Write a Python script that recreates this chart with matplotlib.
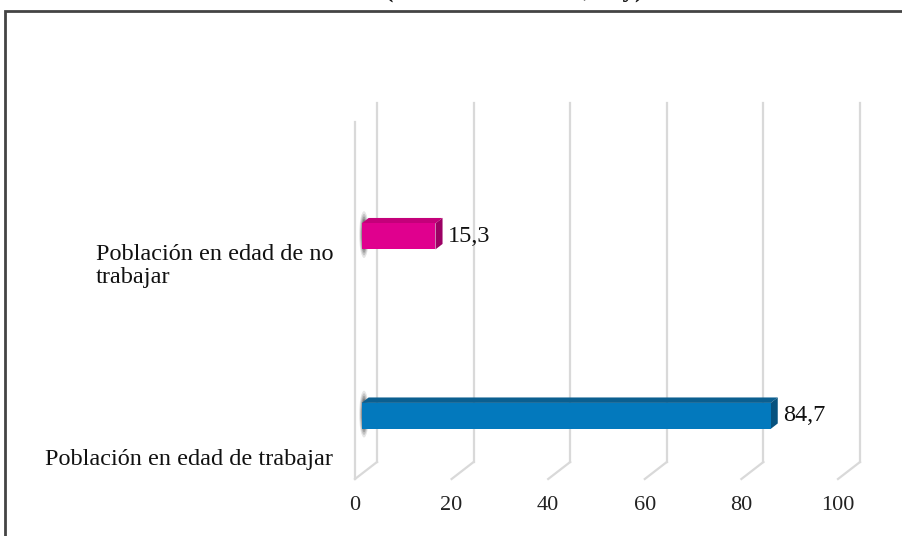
import matplotlib
matplotlib.use("Agg")
import matplotlib.pyplot as plt
from matplotlib.patches import Polygon, Rectangle, Ellipse

plt.rcParams['font.family'] = ['Liberation Serif', 'DejaVu Serif']

# ---- data ----
categories = ["Población en edad de trabajar", "Población en edad de no\ntrabajar"]
values = [84.7, 15.3]
value_labels = ["84,7", "15,3"]
xticks = [0, 20, 40, 60, 80, 100]
xtick_labels = ["0", "20", "40", "60", "80", "100"]
front_colors = ["#0379BD", "#E0008E"]
top_colors = ["#0B5F90", "#C4007A"]
side_colors = ["#07527E", "#9C0064"]
title = "(Total de la ciudad, hoy)"

W, H = 902, 536
fig = plt.figure(figsize=(W / 100, H / 100), dpi=100)

# front plane: x 0->355px, 100->838px ; y bottom 479px, top 120px
px_per_x = (838 - 355) / 100.0
px_per_y = 179.5
y0_px = 421.0
ylo = -(479 - y0_px) / px_per_y
yhi = 1 + (241.5 - 120) / px_per_y
ax = fig.add_axes([355 / W, (H - 479) / H, 483 / W, (479 - 120) / H])
ax.set_xlim(0, 100)
ax.set_ylim(ylo, yhi)
ax.set_axis_off()

# depth vector (data units)
DX = 22 / px_per_x
DY = 17 / px_per_y

grid_c = "#D9D9D9"
for v in xticks:
    ax.plot([v + DX, v + DX], [ylo + DY, yhi + DY], color=grid_c, lw=1.6, clip_on=False, zorder=1)
    ax.plot([v, v + DX], [ylo, ylo + DY], color=grid_c, lw=1.6, clip_on=False, zorder=1)
# left wall front edge
ax.plot([0, 0], [ylo, yhi - 2 / px_per_y], color=grid_c, lw=1.6, clip_on=False, zorder=1)

for v, lab in zip(xticks, xtick_labels):
    ax.text(v, ylo - 26 / px_per_y, lab, ha='center', va='center', fontsize=16,
            color='#222222', clip_on=False)

# bars
t1, t2 = 0.30, 0.62
bh = 26 / px_per_y
for i, (v, fc, tc, sc, vl) in enumerate(zip(values, front_colors, top_colors, side_colors, value_labels)):
    ox1, oy1 = t1 * DX, t1 * DY
    ox2, oy2 = t2 * DX, t2 * DY
    yb, yt = i - bh / 2 + oy1, i + bh / 2 + oy1
    x0, x1 = ox1, v + ox1
    # shadow at base
    for k, a in enumerate([0.10, 0.14, 0.18, 0.22]):
        ax.add_patch(Ellipse((x0 + 0.5, i + oy1 + 0.01), width=2.0 - 0.35 * k,
                             height=bh * (1.8 - 0.2 * k), color='#000000', alpha=a,
                             lw=0, zorder=2, clip_on=False))
    ax.add_patch(Polygon([(x0, yt), (x1, yt), (x1 + (ox2 - ox1), yt + (oy2 - oy1)),
                          (x0 + (ox2 - ox1), yt + (oy2 - oy1))], closed=True,
                         facecolor=tc, edgecolor='none', zorder=3, clip_on=False))
    ax.add_patch(Polygon([(x1, yb), (x1, yt), (x1 + (ox2 - ox1), yt + (oy2 - oy1)),
                          (x1 + (ox2 - ox1), yb + (oy2 - oy1))], closed=True,
                         facecolor=sc, edgecolor='none', zorder=3, clip_on=False))
    ax.add_patch(Rectangle((x0, yb), v, bh, facecolor=fc, edgecolor='none', zorder=4,
                           clip_on=False))
    ax.text(x1 + (ox2 - ox1) + 5 / px_per_x, i + oy1, vl, ha='left', va='center',
            fontsize=17.5, color='#111111', clip_on=False)

# category labels
label_offsets = [-0.217, -0.137]
for i, (c, off) in enumerate(zip(categories, label_offsets)):
    ax.text(-22 / px_per_x, i + off, c, ha='right', va='center', ma='left',
            fontsize=17.5, color='#111111', linespacing=1.15, clip_on=False)

# frame
fig.patches.append(Rectangle((5 / W, -0.05), 1.1, (H - 11) / H + 0.05,
                             transform=fig.transFigure, fill=False,
                             edgecolor='#444444', lw=2, clip_on=False))
# title (partly cut at top, as in the reference)
fig.text(514 / W, 1.0 + 3 / H, title, ha='center', va='baseline', fontsize=18,
         fontweight='bold', color='#111111')

fig.savefig("out.png", dpi=100)
